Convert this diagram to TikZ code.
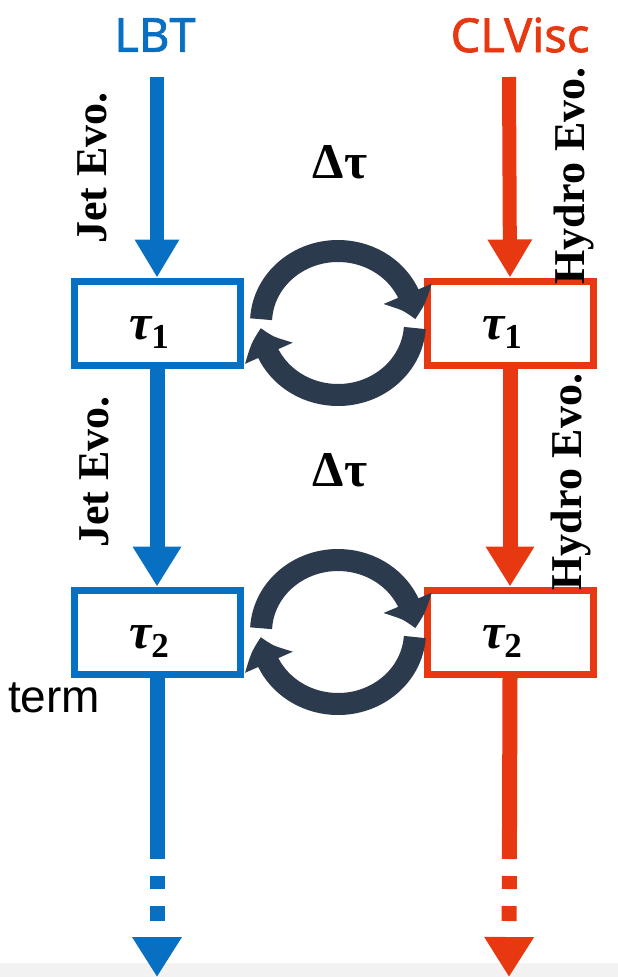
\documentclass[tikz,border=0pt]{standalone}
\usepackage{fontspec}
\setmainfont{Liberation Serif}
\newfontfamily\codesans[FakeBold=1.4]{Noto Sans}
\newfontfamily\termsans{Liberation Sans}
\usetikzlibrary{arrows.meta,bending}

\definecolor{lbtblue}{RGB}{8,112,194}
\definecolor{clvred}{RGB}{232,56,18}
\definecolor{cycdark}{RGB}{44,58,78}

\begin{document}
\begin{tikzpicture}[x=1pt,y=1pt,
  stepbox/.style={draw, line width=7pt, minimum width=166pt, minimum height=84pt,
                  inner sep=0pt, fill=white},
  taulabel/.style={inner sep=0pt, font=\fontsize{50}{50}\selectfont\bfseries\itshape},
  evolabel/.style={rotate=90, inner sep=0pt, font=\fontsize{44}{44}\selectfont\bfseries},
  dtlabel/.style={inner sep=0pt, font=\fontsize{50}{50}\selectfont\bfseries},
  codename/.style={inner sep=0pt, font=\codesans\fontsize{47}{47}\selectfont},
  evoarrow/.style={line width=14pt, -{Triangle[width=42pt,length=38pt]}},
  midarrow/.style={line width=15pt, -{Triangle[width=46pt,length=40pt]}},
  tailarrow/.style={line width=15pt,
      dash pattern=on 181.5pt off 17pt on 13pt off 17pt on 15pt off 30pt,
      -{Triangle[width=47pt,length=40pt]}},
  cycarrow/.style={cycdark, line width=22pt, -{Triangle[width=50pt,length=27pt,bend]}}
]
\useasboundingbox (0,0) rectangle (618,-977);
\fill[black!5] (0,-963) rectangle (618,-977);

% program names
\node[codename, text=lbtblue] (lbt) at (155,-35) {LBT};
\node[codename, text=clvred] (clv) at (520,-35) {CLVisc};

% time-step boxes
\node[stepbox, draw=lbtblue] (b1) at (157,-323) {};
\node[stepbox, draw=lbtblue] (b2) at (157,-632) {};
\node[stepbox, draw=clvred]  (r1) at (510,-323) {};
\node[stepbox, draw=clvred]  (r2) at (510,-632) {};

\node[taulabel] at ([shift={(-8,-10)}]b1.center) {τ\raisebox{-9pt}{\fontsize{35}{35}\selectfont\upshape 1}};
\node[taulabel] at ([shift={(-8,-10)}]b2.center) {τ\raisebox{-9pt}{\fontsize{35}{35}\selectfont\upshape 2}};
\node[taulabel] at ([shift={(-8,-10)}]r1.center) {τ\raisebox{-9pt}{\fontsize{35}{35}\selectfont\upshape 1}};
\node[taulabel] at ([shift={(-8,-10)}]r2.center) {τ\raisebox{-9pt}{\fontsize{35}{35}\selectfont\upshape 2}};

% evolution arrows
\coordinate (lbtstart) at (157,-77);
\coordinate (clvstart) at (509,-77);
\coordinate (lbtend) at (157,-977);
\coordinate (clvend) at (509,-977);
\draw[evoarrow, lbtblue] (lbtstart) -- (b1.north);
\draw[evoarrow, clvred]  (clvstart) -- (r1.north);
\draw[midarrow, lbtblue] (b1.south) -- (b2.north);
\draw[midarrow, clvred]  (r1.south) -- (r2.north);
\draw[tailarrow, lbtblue] (b2.south) -- (lbtend);
\draw[tailarrow, clvred]  (r2.south) -- (clvend);

% side labels
\node[evolabel] at (92,-168) {Jet Evo.};
\node[evolabel] at (94,-472) {Jet Evo.};
\node[evolabel] at (574,-176) {Hydro Evo.};
\node[evolabel] at (571,-482) {Hydro Evo.};

% exchange cycles
\node[dtlabel] (dt1) at (340,-162) {Δτ};
\node[dtlabel] (dt2) at (340,-470) {Δτ};
\coordinate (c1) at (338,-323);
\coordinate (c2) at (338,-632);
\foreach \c in {c1,c2}{
  \draw[cycarrow] ([shift={(177:77pt and 72pt)}]\c) arc[start angle=177, end angle=3, x radius=77pt, y radius=72pt];
  \draw[cycarrow] ([shift={(-4:77pt and 72pt)}]\c) arc[start angle=-4, end angle=-176, x radius=77pt, y radius=72pt];
}

\node[font=\termsans\fontsize{46}{46}\selectfont, inner sep=0pt, anchor=base west] (term) at (8,-712) {term};
\end{tikzpicture}
\end{document}
